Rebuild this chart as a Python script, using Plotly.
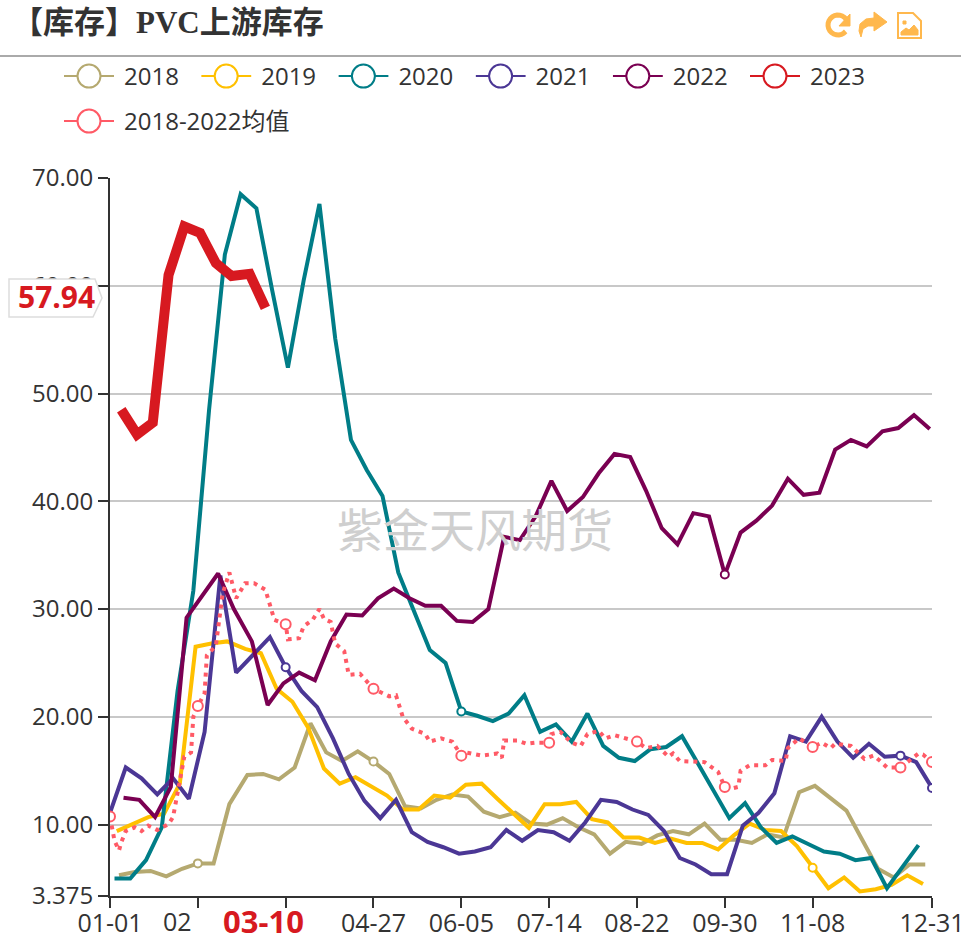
import math
import pandas as pd
import plotly.graph_objects as go

W, H = 970, 941
L, R, T, B = 110, 38, 178, 45

# ---------- data ----------
title_text = "【库存】PVC上游库存"
watermark = "紫金天风期货"
y_ticks = [70, 60, 50, 40, 30, 20, 10, 3.375]
y_labels = ["70.00", "60.00", "50.00", "40.00", "30.00", "20.00", "10.00", "3.375"]
x_ticks = ["01-01", "02-09", "03-19", "04-27", "06-05", "07-14", "08-22", "09-30", "11-08", "12-31"]
x_labels = ["01-01", "", "", "04-27", "06-05", "07-14", "08-22", "09-30", "11-08", "12-31"]

v2018 = [5.3, 5.6, 5.7, 5.2, 5.9, 6.4, 6.4, 11.9, 14.6, 14.7,
         14.2, 15.3, 19.4, 16.7, 15.9, 16.8, 15.85, 14.7, 11.7, 11.5,
         12.3, 12.8, 12.6, 11.2, 10.7, 11.1, 10.1, 10.0, 10.6, 9.75,
         9.1, 7.3, 8.4, 8.2, 9.0, 9.4, 9.1, 10.1, 8.6, 8.6,
         8.3, 9.1, 8.8, 13.0, 13.6, 12.5, 11.3, 8.6, 5.9, 5.1, 6.3, 6.3]
v2019 = [9.4, 10.1, 10.7, 11.0, 13.8, 26.5, 26.8, 27.0, 26.3, 25.9,
         22.6, 21.4, 19.0, 15.2, 13.8, 14.4, 13.5, 12.7, 11.4, 11.4,
         12.7, 12.5, 13.7, 13.8, 12.4, 11.0, 9.7, 11.9, 11.9, 12.1,
         10.5, 10.2, 8.8, 8.8, 8.3, 8.7, 8.3, 8.3, 7.7, 9.0,
         10.1, 9.5, 9.4, 8.0, 6.0, 4.1, 5.1, 3.8, 4.0, 4.4, 5.3, 4.5]
v2020 = [5.0, 5.0, 6.7, 9.75, 22.4, 31.7, 48.5, 62.9, 68.5, 67.2,
         59.6, 52.4, 60.5, 67.6, 55.1, 45.7, 42.9, 40.5, 33.4, 29.9,
         26.2, 25.0, 20.5, 20.1, 19.6, 20.3, 22.0, 18.6, 19.3, 17.7,
         20.3, 17.3, 16.2, 15.9, 17.0, 17.2, 18.2, 15.7, 13.2, 10.6,
         12.0, 9.75, 8.3, 8.9, 8.2, 7.5, 7.3, 6.7, 6.9, 4.1, 6.1, 8.1]
v2021 = [11.1, 15.3, 14.3, 12.8, 14.3, 12.4, 18.6, 33.1, 24.1, 25.9,
         27.4, 24.6, 22.4, 20.9, 18.0, 14.7, 12.2, 10.6, 12.3, 9.3,
         8.4, 7.9, 7.3, 7.5, 7.9, 9.5, 8.5, 9.5, 9.3, 8.5,
         10.2, 12.3, 12.1, 11.4, 10.9, 9.4, 6.9, 6.3, 5.4, 5.4,
         9.9, 11.1, 12.9, 18.2, 17.7, 20.0, 17.7, 16.2, 17.5, 16.3,
         16.4, 15.8, 13.4]
v2022 = [12.5, 12.3, 10.7, 13.5, 29.2, 31.2, 33.3, 30.0, 27.0, 21.1,
         23.1, 24.1, 23.4, 27.0, 29.5, 29.4, 31.0, 31.9, 31.0, 30.3,
         30.3, 28.9, 28.8, 30.0, 36.7, 36.4, 38.6, 41.9, 39.1, 40.4,
         42.6, 44.4, 44.1, 41.0, 37.5, 36.0, 38.9, 38.6, 33.2, 37.1,
         38.2, 39.6, 42.1, 40.6, 40.8, 44.8, 45.7, 45.1, 46.5, 46.8,
         48.0, 46.7]
v2023 = [48.5, 46.2, 47.3, 61.0, 65.5, 64.9, 62.1, 60.9, 61.1, 57.94]

avg_days = [0, 2, 4, 5, 7, 11, 14, 17, 21, 26, 28, 30, 33, 36, 37, 39, 42, 43, 47, 50,
            53, 56, 60, 64, 69, 71, 73, 78, 79, 84, 86, 90, 93, 95, 98, 100, 104, 106, 111, 117,
            124, 127, 130, 134, 140, 142, 147, 152, 156, 158, 165, 172, 174, 175, 181, 185, 189, 195, 196, 200,
            205, 209, 212, 217, 220, 224, 229, 234, 238, 243, 248, 250, 253, 259, 264, 270, 273, 275, 279, 280,
            284, 291, 294, 300, 301, 306, 312, 316, 320, 322, 329, 335, 339, 342, 345, 351, 355, 359, 361, 365]
avg_vals = [10.75, 8.5, 7.6, 8.35, 9.4, 9.75, 9.4, 9.9, 9.5, 10.05, 10.7, 12.9, 16.3, 16.7, 20.0, 21.0, 22.2, 25.7, 26.6, 31.4,
            33.4, 31.0, 32.4, 32.4, 31.8, 30.4, 29.0, 28.6, 27.2, 27.3, 28.4, 29.0, 30.0, 29.1, 28.8, 26.8, 26.1, 23.9, 24.0, 22.6,
            21.9, 22.0, 20.0, 18.9, 18.4, 17.7, 18.0, 17.7, 16.4, 16.7, 16.4, 16.6, 16.2, 17.8, 17.8, 17.5, 17.6, 17.6, 18.4, 18.6,
            17.6, 17.3, 18.4, 18.7, 18.0, 18.3, 18.0, 17.7, 17.1, 17.3, 16.3, 16.6, 15.9, 15.8, 15.8, 14.9, 13.5, 13.3, 13.5, 15.0,
            15.5, 15.5, 16.0, 15.9, 17.1, 18.0, 17.2, 17.6, 17.1, 17.5, 17.3, 16.1, 16.4, 15.9, 15.3, 15.3, 15.9, 16.6, 16.5, 15.8]
avg_marks = [0, 39, 78, 117, 156, 195, 234, 273, 312, 351, 365]

names = ["2018", "2019", "2020", "2021", "2022", "2023"]
starts = ["2018-01-05", "2019-01-04", "2020-01-03", "2021-01-01", "2022-01-07", "2023-01-06"]
values = [v2018, v2019, v2020, v2021, v2022, v2023]
colors = ["#b5a970", "#ffc000", "#007d87", "#4b3795", "#7a0052", "#d71920"]
widths = [4, 4, 4, 4, 4, 10]
marks = [["02-09", "04-27"], ["11-08"], ["06-05"], ["03-19", "12-17", "12-31"], ["09-30"], []]
avg_name = "2018-2022均值"
avg_color = "#ff5a66"
FONT = "Open Sans, Noto Sans CJK SC, sans-serif"
TXT = "#333333"


# ---------- helpers ----------
def px(x, y):
    return (x - L) / (W - L - R), (H - B - y) / (H - T - B)


def poly(points, close=True):
    p = [px(*q) for q in points]
    return "M" + " L".join(f"{a:.5f},{b:.5f}" for a, b in p) + (" Z" if close else "")


def to_2020(start, n):
    return [d.replace(year=2020) for d in pd.date_range(start, periods=n, freq="7D")]


fig = go.Figure()
for nm, st, v, c, w, mk in zip(names, starts, values, colors, widths, marks):
    d = to_2020(st, len(v))
    fig.add_trace(go.Scatter(x=d, y=v, mode="lines", name=nm, showlegend=False, legendgroup=nm,
                             line=dict(color=c, width=w), hoverinfo="x+y"))
    pick = [i for i, t in enumerate(d) if t.strftime("%m-%d") in mk]
    if pick:
        fig.add_trace(go.Scatter(x=[d[i] for i in pick], y=[v[i] for i in pick], mode="markers", showlegend=False,
                                 legendgroup=nm, hoverinfo="skip",
                                 marker=dict(size=8, color="white", line=dict(color=c, width=2))))

avg_x = [pd.Timestamp("2020-01-01") + pd.Timedelta(days=k) for k in avg_days]
fig.add_trace(go.Scatter(x=avg_x, y=avg_vals, mode="lines", showlegend=False,
                         line=dict(color=avg_color, width=4, dash="4px,5px"), name=avg_name))
pick = [i for i, k in enumerate(avg_days) if k in avg_marks]
fig.add_trace(go.Scatter(x=[avg_x[i] for i in pick], y=[avg_vals[i] for i in pick], mode="markers", showlegend=False,
                         hoverinfo="skip", marker=dict(size=10, color="white", line=dict(color=avg_color, width=2))))

# legend keys: thin line and open circle, one placed legend per entry as the reference wraps them
legend_layout = {}
entries = list(zip(names, colors)) + [(avg_name, avg_color)]
for i, (nm, c) in enumerate(entries):
    key = "legend" if i == 0 else f"legend{i + 1}"
    fig.add_trace(go.Scatter(x=[None], y=[None], mode="lines+markers", name=nm, legend=key,
                             line=dict(color=c, width=2),
                             marker=dict(size=16, color="white", line=dict(color=c, width=2))))
    col, row = (i, 0) if i < 6 else (0, 1)
    legend_layout[key] = dict(orientation="h", xref="container", yref="container",
                              x=(64 + 137.2 * col) / W, y=1 - (76.5 + 45 * row) / H,
                              xanchor="left", yanchor="middle", itemwidth=50,
                              bgcolor="rgba(0,0,0,0)", font=dict(size=24, color=TXT), itemclick=False)

# ---------- decoration ----------
ORANGE = "#ffb84d"
shapes = []
# title rule
a = px(0, 56); b = px(961, 56)
shapes.append(dict(type="line", xref="paper", yref="paper", x0=a[0], x1=b[0], y0=a[1], y1=b[1],
                   line=dict(color="#aaaaaa", width=2)))
# value tag on the y axis
shapes.append(dict(type="path", xref="paper", yref="paper", layer="above", fillcolor="white",
                   line=dict(color="#dddddd", width=1.5),
                   path=poly([(9, 279), (95, 279), (102, 298), (93, 317), (9, 317)])))
# refresh icon
cx, cy, r = 838, 25, 10
arc = [(cx + r * math.cos(math.radians(t)), cy + r * math.sin(math.radians(t))) for t in range(-320, -20, 15)]
shapes.append(dict(type="path", xref="paper", yref="paper", line=dict(color=ORANGE, width=5), path=poly(arc, False)))
shapes.append(dict(type="path", xref="paper", yref="paper", fillcolor=ORANGE, line=dict(color=ORANGE, width=1),
                   path=poly([(850, 14), (850, 26), (839, 26)])))
# share icon
shapes.append(dict(type="path", xref="paper", yref="paper", fillcolor=ORANGE, line=dict(color=ORANGE, width=1),
                   path=poly([(874, 12), (887, 22), (874, 31), (874, 26), (868, 26), (863, 29), (861, 37),
                              (859, 31), (860, 24), (866, 19), (874, 18)])))
# image icon
shapes.append(dict(type="path", xref="paper", yref="paper", line=dict(color=ORANGE, width=2),
                   path=poly([(898, 13), (913, 13), (921, 21), (921, 38), (898, 38)])))
shapes.append(dict(type="path", xref="paper", yref="paper", fillcolor=ORANGE, line=dict(color=ORANGE, width=1),
                   path=poly([(901, 35), (901, 32), (906, 28), (909, 30), (914, 25), (918, 30), (918, 35)])))
shapes.append(dict(type="path", xref="paper", yref="paper", fillcolor=ORANGE, line=dict(color=ORANGE, width=1),
                   path=poly([(903, 21), (906, 21), (906, 24), (903, 24)])))

wx, wy = px(475, 527)
tx, ty = px(56, 296)
_, ly = px(0, 921)
_, ly2 = px(0, 921)
annotations = [
    dict(text=watermark, x=wx, y=wy, xref="paper", yref="paper", showarrow=False,
         xanchor="center", yanchor="middle",
         font=dict(family="Noto Sans CJK SC", size=46, color="#cfcfcf")),
    dict(text="<b>57.94</b>", x=tx, y=ty, xref="paper", yref="paper", showarrow=False,
         xanchor="center", yanchor="middle",
         font=dict(family=FONT, size=30, color="#d71920")),
    dict(text="<b>03-10</b>", x="2020-03-10", y=ly, xref="x", yref="paper", xshift=-2, showarrow=False,
         xanchor="center", yanchor="middle",
         font=dict(family=FONT, size=31, color="#d71920")),
    # the 02-09 tick label is cut to "02" by the pointer label in the reference
    dict(text="02", x="2020-02-09", y=ly2, xref="x", yref="paper", xshift=-20, showarrow=False,
         xanchor="center", yanchor="middle", font=dict(family=FONT, size=25, color=TXT)),
]

fig.update_layout(
    width=W, height=H, autosize=False,
    margin=dict(l=L, r=R, t=T, b=B, autoexpand=False),
    paper_bgcolor="white", plot_bgcolor="white",
    font=dict(family=FONT, size=24, color=TXT),
    title=dict(text="<b>" + title_text + "</b>", x=12 / W, xanchor="left", y=1 - 22 / H, yanchor="middle",
               font=dict(family="Liberation Serif, Noto Sans CJK SC, serif", size=31, color=TXT)),
    showlegend=True,
    xaxis=dict(type="date", range=["2020-01-01", "2020-12-31"],
               tickmode="array", tickvals=["2020-" + t for t in x_ticks], ticktext=x_labels,
               showgrid=False, zeroline=False, showline=True, linecolor=TXT, linewidth=2,
               ticks="outside", ticklen=10, tickwidth=2, tickcolor=TXT, ticklabelstandoff=-6,
               tickfont=dict(size=25, color=TXT), tickangle=0),
    yaxis=dict(range=[3.375, 70], tickmode="array", tickvals=y_ticks, ticktext=y_labels,
               showgrid=True, gridcolor="#c8c8c8", gridwidth=2, zeroline=False,
               showline=True, linecolor=TXT, linewidth=2,
               ticks="outside", ticklen=10, tickwidth=2, tickcolor=TXT,
               tickfont=dict(size=24, color=TXT)),
    shapes=shapes, annotations=annotations,
    **legend_layout,
)

post = """
document.body.style.margin='0';
document.querySelectorAll('.legendpoints path').forEach(function(p){
  p.setAttribute('d','M11.5,0A11.5,11.5 0 1,1 0,-11.5A11.5,11.5 0 0,1 11.5,0Z');
});
document.querySelectorAll('.legendlines, .legendsymbols').forEach(function(g){
  g.setAttribute('transform','translate(-5,0)');
});
"""
fig.write_html("out.html", post_script=post, config={"displayModeBar": False})
